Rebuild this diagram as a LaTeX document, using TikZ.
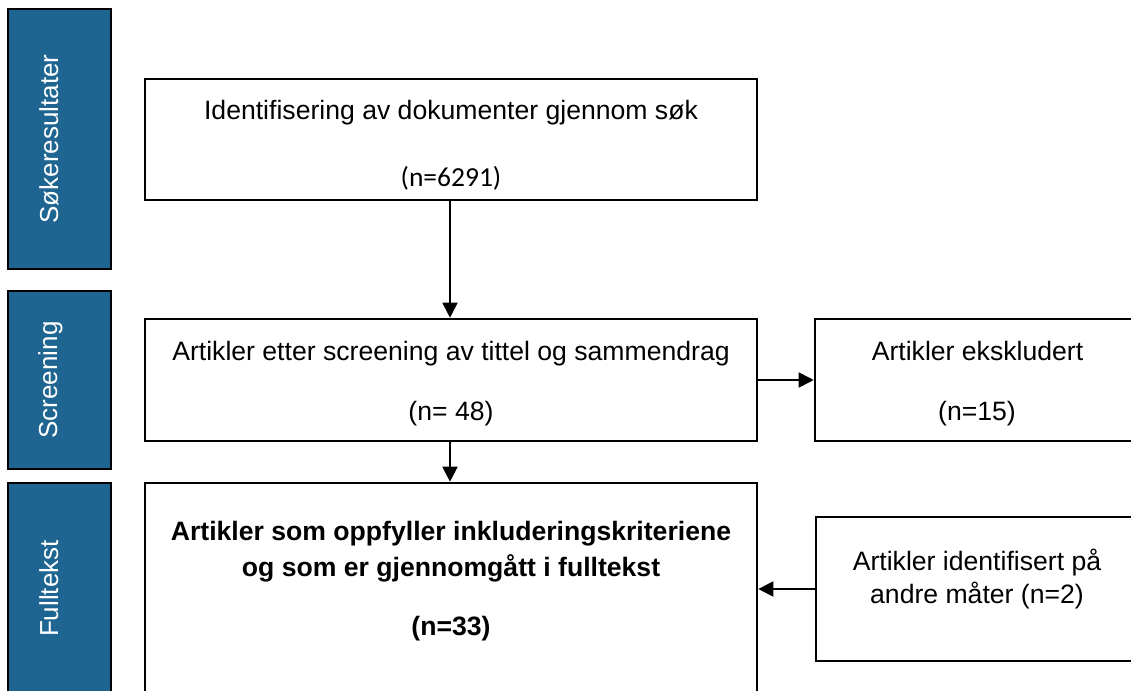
\documentclass[tikz,border=0pt]{standalone}
\usepackage{fontspec}
\setmainfont{Liberation Sans}
\newfontfamily\calibrifont{Carlito}
\usetikzlibrary{arrows.meta}
\definecolor{stageblue}{RGB}{31,101,145}
\tikzset{
  flowbox/.style={draw=black, line width=2.6pt, fill=white, rectangle, inner sep=0pt},
  stagebox/.style={draw=black, line width=2.8pt, fill=stageblue, rectangle, inner sep=0pt},
  stagelabel/.style={text=white, rotate=90, anchor=base, inner sep=0pt, font=\fontsize{26}{30}\selectfont},
  lbl/.style={anchor=base, inner sep=0pt, align=center, font=\fontsize{26.6}{32}\selectfont},
  boldlbl/.style={lbl, font=\bfseries\fontsize{26.6}{32}\selectfont},
  arr/.style={line width=1.9pt, -{Triangle[length=15pt,width=15pt]}},
}
\begin{document}
\begin{tikzpicture}[x=1pt, y=-1pt]
\useasboundingbox (0,0) rectangle (1131,690);

% stage markers on the left
\node[stagebox, minimum width=103pt, minimum height=260pt] (s1) at (59.5,139) {};
\node[stagebox, minimum width=103pt, minimum height=178pt] (s2) at (59.5,380) {};
\node[stagebox, minimum width=103pt, minimum height=211pt] (s3) at (59.5,588.5) {};
\node[stagelabel] (s1t) at (58,139) {Søkeresultater};
\node[stagelabel] (s2t) at (57,380) {Screening};
\node[stagelabel] (s3t) at (58,588.5) {Fulltekst};

% flow boxes
\node[flowbox, minimum width=612pt, minimum height=121pt] (b1) at (451,139.5) {};
\node[flowbox, minimum width=612pt, minimum height=122pt] (b2) at (451,380) {};
\node[flowbox, minimum width=325pt, minimum height=122pt] (b3) at (977.5,380) {};
\node[flowbox, minimum width=612pt, minimum height=217pt] (b4) at (451,591.5) {};
\node[flowbox, minimum width=324pt, minimum height=144pt] (b5) at (978,589) {};

% box texts
\node[lbl] (t1a) at (451,120) {Identifisering av dokumenter gjennom søk};
\node[lbl, font=\calibrifont\fontsize{27.5}{32}\selectfont] (t1b) at (451,186) {(n=6291)};

\node[lbl] (t2a) at (451,360) {Artikler etter screening av tittel og sammendrag};
\node[lbl] (t2b) at (451,420) {(n= 48)};

\node[lbl] (t3a) at (977.5,360) {Artikler ekskludert};
\node[lbl] (t3b) at (977,420) {(n=15)};

\node[boldlbl] (t4a) at (451,540) {Artikler som oppfyller inkluderingskriteriene};
\node[boldlbl] (t4b) at (451,576) {og som er gjennomgått i fulltekst};
\node[boldlbl] (t4c) at (451,635) {(n=33)};

\node[lbl] (t5a) at (977,570) {Artikler identifisert på};
\node[lbl] (t5b) at (977,603) {andre måter (n=2)};

% connectors
\coordinate (mainx) at (450,0);
\draw[arr] (b1.south -| mainx) -- (b2.north -| mainx);
\draw[arr] (b2.south -| mainx) -- (b4.north -| mainx);
\draw[arr] (b2.east) -- (b3.west);
\draw[arr] (b5.west) -- (b4.east |- b5.west);
\end{tikzpicture}
\end{document}
